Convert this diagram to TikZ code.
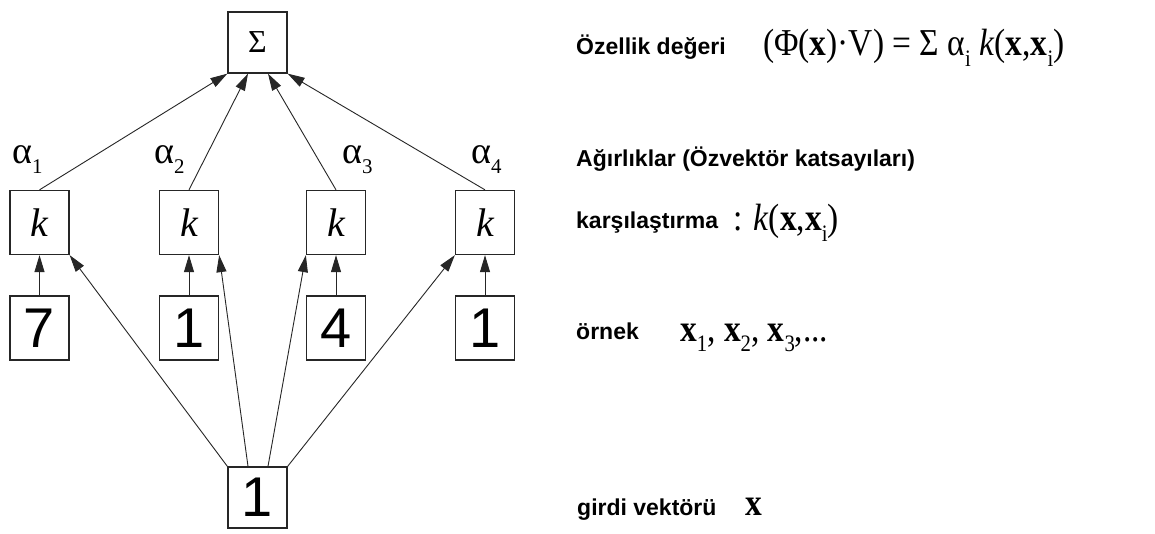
\documentclass[tikz,border=0pt]{standalone}
\usepackage{fontspec}
\usepackage{graphicx}
\setmainfont{Liberation Serif}
\newfontfamily\sansb{Liberation Sans}
\usetikzlibrary{arrows.meta}
\newcommand\lsub[2][0.28em]{\raisebox{-#1}{\scalebox{0.62}{#2}}}
\newcommand\hcond[1]{\scalebox{0.88}[1]{#1}}
\tikzset{
  box/.style={draw=black!85, line width=1.3pt, minimum width=59pt, minimum height=64pt, inner sep=0pt, fill=white},
  arr/.style={draw=black!85, line width=0.9pt, -{Triangle[length=17pt,width=10pt]}},
  lbl/.style={font=\sansb\bfseries\fontsize{23}{27}\selectfont, anchor=base west, inner sep=0pt},
  eqn/.style={font=\fontsize{38}{44}\selectfont, anchor=base west, inner sep=0pt},
  alph/.style={font=\fontsize{38}{44}\selectfont, anchor=base west, inner sep=0pt},
  digit/.style={box, font=\sansb\fontsize{56}{60}\selectfont},
  kbox/.style={box, font=\itshape\fontsize{40}{46}\selectfont},
}
\begin{document}
\begin{tikzpicture}[x=1pt,y=-1pt]
\useasboundingbox[fill=white] (0,0) rectangle (1155,534);
% sum node
\node[box, minimum height=61pt, font=\fontsize{32}{36}\selectfont] (S) at (257.5,42.5) {Σ};
% kernel nodes
\node[kbox] (k1) at (39.5,222.5) {k};
\node[kbox] (k2) at (189,222.5) {k};
\node[kbox] (k3) at (336,222.5) {k};
\node[kbox] (k4) at (485,222.5) {k};
% sample nodes
\node[digit] (d1) at (39.5,328) {7};
\node[digit] (d2) at (189,328) {1};
\node[digit] (d3) at (336,328) {4};
\node[digit] (d4) at (485,328) {1};
% input node
\node[digit, minimum height=61pt] (B) at (257.5,497.5) {1};
% weights
\node[alph] (a1) at (12,164) {α\raisebox{-0.25em}{\scalebox{0.55}{1}}};
\node[alph] (a2) at (154,164) {α\raisebox{-0.25em}{\scalebox{0.55}{2}}};
\node[alph] (a3) at (342,164) {α\raisebox{-0.25em}{\scalebox{0.55}{3}}};
\node[alph] (a4) at (471,164) {α\raisebox{-0.25em}{\scalebox{0.55}{4}}};
% connectors
\draw[arr] (k1.north) -- (S.south west);
\draw[arr] (k2.north) -- ([xshift=-9.5pt]S.south);
\draw[arr] (k3.north) -- ([xshift=10.5pt]S.south);
\draw[arr] (k4.north) -- (S.south east);
\foreach \i in {1,2,3,4}{\draw[arr] (d\i.north) -- (k\i.south);}
\draw[arr] (B.north west) -- (k1.south east);
\draw[arr] ([xshift=-9.5pt]B.north) -- (k2.south east);
\draw[arr] ([xshift=10.5pt]B.north) -- (k3.south west);
\draw[arr] (B.north east) -- (k4.south west);
% right-hand texts
\node[lbl] (t1) at (576,55) {Özellik değeri};
\node[eqn] (e1) at (763,56) {\hcond{(Φ(\textbf{x})·V) = Σ α\lsub{i} \textit{k}(\textbf{x},\textbf{x}\lsub{i})}};
\node[lbl] (t2) at (576,167) {Ağırlıklar (Özvektör katsayıları)};
\node[lbl] (t3) at (576,229) {karşılaştırma};
\node[eqn] (e3) at (733,231) {\hcond{: \textit{k}(\textbf{x},\textbf{x}\lsub{i})}};
\node[lbl] (t4) at (576,339) {örnek};
\node[eqn] (e4) at (680,341) {\hcond{\textbf{x}\lsub{1}, \textbf{x}\lsub{2}, \textbf{x}\lsub{3},...}};
\node[lbl] (t5) at (577,515) {girdi vektörü};
\node[eqn] (e5) at (745,515) {\hcond{\textbf{x}}};
\end{tikzpicture}
\end{document}
